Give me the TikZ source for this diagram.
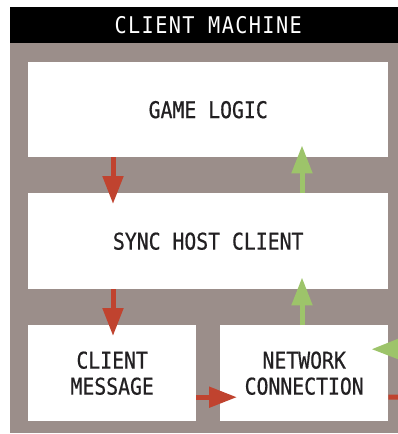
\documentclass[tikz,border=0pt]{standalone}
\usepackage{fontspec}
\usetikzlibrary{positioning, arrows.meta, calc}
\newfontfamily\boxfont[FakeStretch=0.86, FakeBold=0.6]{DejaVu Sans Mono}
\newfontfamily\titlefont[FakeStretch=0.88, LetterSpace=6]{DejaVu Sans Mono}
\definecolor{panelcolor}{RGB}{155, 142, 138}
\definecolor{sendcolor}{RGB}{192, 67, 47}
\definecolor{recvcolor}{RGB}{157, 196, 106}
\definecolor{txtcolor}{RGB}{34, 32, 34}

\begin{document}
\begin{tikzpicture}[
  x=1pt, y=-1pt,
  % --- Styles ---
  wbox/.style={
    rectangle, fill=white, inner sep=0pt, anchor=north west,
    minimum width=#1, minimum height=96pt, align=center,
    text=txtcolor, font=\boxfont\fontsize{23}{26}\selectfont},
  wbox/.default=360pt,
  flow/.style={line width=5pt, #1,
    -{Triangle[length=28pt, width=20pt]}},
  flow/.default=sendcolor,
]
\useasboundingbox (0,0) rectangle (398,434);
% === FRAME ===
\node[fill=panelcolor, inner sep=0pt, anchor=north west,
      minimum width=388pt, minimum height=390pt] (P) at (10,43) {};
\node[fill=black, inner sep=0pt, anchor=north west,
      minimum width=388pt, minimum height=36pt] (T) at (10,7) {};
\node[text=white, font=\titlefont\fontsize{23}{26}\selectfont]
  at ([xshift=4pt]T.center) {CLIENT MACHINE};

% === NODES ===
\node[wbox, minimum height=95pt] (GL) at (28,62) {GAME LOGIC};
\node[wbox] (SH) at (28,193) {SYNC HOST CLIENT};
\node[wbox=168pt] (CM) at (28,325) {CLIENT\\MESSAGE};
\node[wbox=168pt] (NC) at (220,325) {NETWORK\\CONNECTION};

% lanes
\coordinate (lx) at (113,0);
\coordinate (rx) at (302,0);
\coordinate (net) at (402,349);
\coordinate (out) at (402,397);

% === ARROWS ===
% outgoing (down)
\draw[flow] (GL.south -| lx) -- ($(SH.north -| lx)+(0,11)$);
\draw[flow] (SH.south -| lx) -- ($(CM.north -| lx)+(0,11)$);
\draw[flow] ([yshift=-24pt]CM.east) -- ($([yshift=-24pt]NC.west)+(17,0)$);
\draw[line width=5pt, sendcolor] ([yshift=-24pt]NC.east) -- (out);
% incoming (up)
\draw[flow=recvcolor] (net) -- ($([yshift=24pt]NC.east)+(-17,0)$);
\draw[flow=recvcolor] (NC.north -| rx) -- ($(SH.south -| rx)+(0,-12)$);
\draw[flow=recvcolor] (SH.north -| rx) -- ($(GL.south -| rx)+(0,-12)$);
\end{tikzpicture}
\end{document}
